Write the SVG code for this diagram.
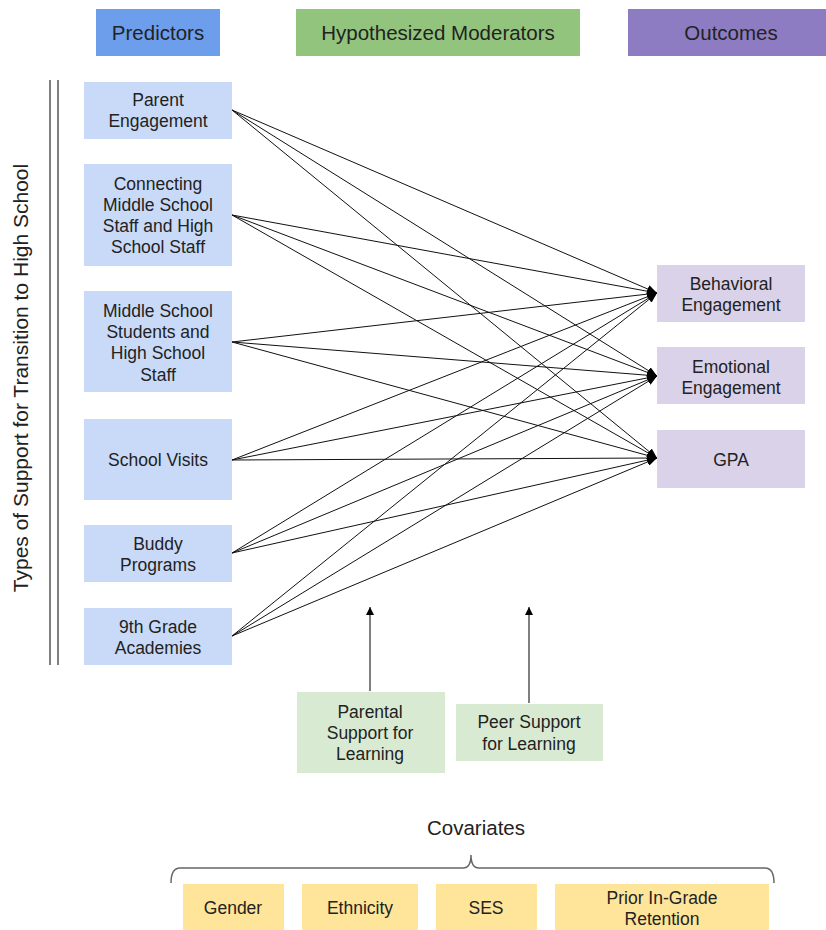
<svg xmlns="http://www.w3.org/2000/svg" width="826" height="930" viewBox="0 0 826 930">
<style>
text{font-family:"Liberation Sans",Arial,sans-serif;fill:#222;text-anchor:middle}
.h{font-size:20.5px}
.n{font-size:17.5px}
.pred{fill:#c9daf8}
.out{fill:#d9d2e9}
.mod{fill:#d9ead3}
.cov{fill:#ffe599}
.c{stroke:#111;stroke-width:1;fill:none;marker-end:url(#ah)}
.m{stroke:#555;stroke-width:1.5;fill:none;marker-end:url(#ah2)}
</style>
<defs>
<marker id="ah" markerUnits="userSpaceOnUse" markerWidth="10" markerHeight="8" refX="10" refY="4" orient="auto"><path d="M0,0 L10,4 L0,8 Z" fill="#000"/></marker>
<marker id="ah2" markerUnits="userSpaceOnUse" markerWidth="8" markerHeight="10" refX="8" refY="4" orient="auto"><path d="M0,0 L8,4 L0,8 Z" fill="#000"/></marker>
</defs>
<rect width="826" height="930" fill="#fff"/>
<g id="header-predictors"><rect x="96" y="9" width="124" height="47" fill="#6d9eeb"/><text class="h" x="158" y="40">Predictors</text></g>
<g id="header-moderators"><rect x="296" y="9" width="284" height="47" fill="#93c47d"/><text class="h" x="438" y="40">Hypothesized Moderators</text></g>
<g id="header-outcomes"><rect x="628" y="9" width="198" height="47" fill="#8e7cc3"/><text class="h" x="731" y="40">Outcomes</text></g>
<g id="group-label">
<line x1="50" y1="80" x2="50" y2="665" stroke="#555" stroke-width="1.5"/>
<line x1="58" y1="80" x2="58" y2="665" stroke="#555" stroke-width="1.5"/>
<text class="h" style="font-size:21px" transform="translate(28,378) rotate(-90)">Types of Support for Transition to High School</text>
</g>
<g id="connectors">
<line class="c" x1="232" y1="110" x2="657" y2="293"/>
<line class="c" x1="232" y1="110" x2="657" y2="376"/>
<line class="c" x1="232" y1="110" x2="657" y2="458"/>
<line class="c" x1="232" y1="215" x2="657" y2="293"/>
<line class="c" x1="232" y1="215" x2="657" y2="376"/>
<line class="c" x1="232" y1="215" x2="657" y2="458"/>
<line class="c" x1="232" y1="342" x2="657" y2="293"/>
<line class="c" x1="232" y1="342" x2="657" y2="376"/>
<line class="c" x1="232" y1="342" x2="657" y2="458"/>
<line class="c" x1="232" y1="460" x2="657" y2="293"/>
<line class="c" x1="232" y1="460" x2="657" y2="376"/>
<line class="c" x1="232" y1="460" x2="657" y2="458"/>
<line class="c" x1="232" y1="553" x2="657" y2="293"/>
<line class="c" x1="232" y1="553" x2="657" y2="376"/>
<line class="c" x1="232" y1="553" x2="657" y2="458"/>
<line class="c" x1="232" y1="636" x2="657" y2="293"/>
<line class="c" x1="232" y1="636" x2="657" y2="376"/>
<line class="c" x1="232" y1="636" x2="657" y2="458"/>
<line class="m" x1="370" y1="691" x2="370" y2="607"/>
<line class="m" x1="529" y1="703" x2="529" y2="607"/>
</g>
<g id="parent-engagement"><rect class="pred" x="84" y="82" width="148" height="57"/><text class="n" x="158" y="106">Parent</text><text class="n" x="158" y="127">Engagement</text></g>
<g id="connecting-staff"><rect class="pred" x="84" y="164" width="148" height="102"/><text class="n" x="158" y="190">Connecting</text><text class="n" x="158" y="211">Middle School</text><text class="n" x="158" y="232">Staff and High</text><text class="n" x="158" y="253">School Staff</text></g>
<g id="ms-students"><rect class="pred" x="84" y="291" width="148" height="101"/><text class="n" x="158" y="317">Middle School</text><text class="n" x="158" y="338">Students and</text><text class="n" x="158" y="359">High School</text><text class="n" x="158" y="381">Staff</text></g>
<g id="school-visits"><rect class="pred" x="84" y="419" width="148" height="81"/><text class="n" x="158" y="466">School Visits</text></g>
<g id="buddy-programs"><rect class="pred" x="84" y="525" width="148" height="57"/><text class="n" x="158" y="550">Buddy</text><text class="n" x="158" y="571">Programs</text></g>
<g id="ninth-grade"><rect class="pred" x="84" y="608" width="148" height="57"/><text class="n" x="158" y="633">9th Grade</text><text class="n" x="158" y="654">Academies</text></g>
<g id="behavioral"><rect class="out" x="657" y="265" width="148" height="57"/><text class="n" x="731" y="290">Behavioral</text><text class="n" x="731" y="311">Engagement</text></g>
<g id="emotional"><rect class="out" x="657" y="347" width="148" height="57"/><text class="n" x="731" y="373">Emotional</text><text class="n" x="731" y="394">Engagement</text></g>
<g id="gpa"><rect class="out" x="657" y="430" width="148" height="58"/><text class="n" x="731" y="466">GPA</text></g>
<g id="parental-support"><rect class="mod" x="297" y="692" width="148" height="81"/><text class="n" x="370" y="718">Parental</text><text class="n" x="370" y="739">Support for</text><text class="n" x="370" y="760">Learning</text></g>
<g id="peer-support"><rect class="mod" x="456" y="704" width="147" height="57"/><text class="n" x="529" y="728">Peer Support</text><text class="n" x="529" y="750">for Learning</text></g>
<g id="covariates">
<text class="h" x="476" y="835">Covariates</text>
<path d="M171,883 Q171,868 180,868 L463,868 Q471,868 471,855 Q471,868 479,868 L765,868 Q774,868 774,883" fill="none" stroke="#666" stroke-width="1.5"/>
</g>
<g id="gender"><rect class="cov" x="183" y="884" width="101" height="46"/><text class="n" x="233" y="914">Gender</text></g>
<g id="ethnicity"><rect class="cov" x="302" y="884" width="116" height="46"/><text class="n" x="360" y="914">Ethnicity</text></g>
<g id="ses"><rect class="cov" x="436" y="884" width="101" height="46"/><text class="n" x="486" y="914">SES</text></g>
<g id="retention"><rect class="cov" x="555" y="884" width="214" height="46"/><text class="n" x="662" y="904">Prior In-Grade</text><text class="n" x="662" y="925">Retention</text></g>
</svg>
